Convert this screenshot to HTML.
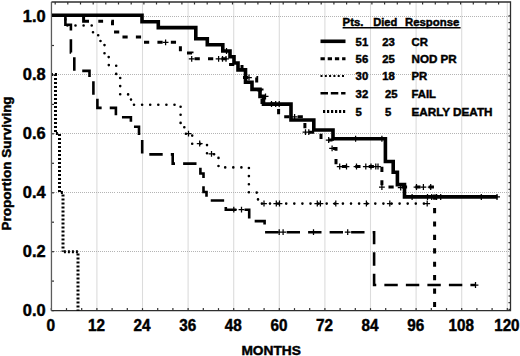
<!DOCTYPE html>
<html><head><meta charset="utf-8"><style>
html,body{margin:0;padding:0;background:#fff;}
body{width:520px;height:356px;overflow:hidden;}
svg{display:block;}
</style></head><body>
<svg width="520" height="356" viewBox="0 0 520 356">
<rect width="520" height="356" fill="#fff"/>
<g stroke="#dcdcdc" stroke-width="1.1"><line x1="96.9" y1="2.0" x2="96.9" y2="310.6"/><line x1="142.5" y1="2.0" x2="142.5" y2="310.6"/><line x1="188.1" y1="2.0" x2="188.1" y2="310.6"/><line x1="233.7" y1="2.0" x2="233.7" y2="310.6"/><line x1="279.3" y1="2.0" x2="279.3" y2="310.6"/><line x1="324.9" y1="2.0" x2="324.9" y2="310.6"/><line x1="370.5" y1="2.0" x2="370.5" y2="310.6"/><line x1="416.1" y1="2.0" x2="416.1" y2="310.6"/><line x1="461.7" y1="2.0" x2="461.7" y2="310.6"/><line x1="507.3" y1="2.0" x2="507.3" y2="310.6"/></g>
<g stroke="#b4b4b4" stroke-width="1" stroke-dasharray="1 1" shape-rendering="crispEdges"><line x1="51.5" y1="251.7" x2="510.5" y2="251.7"/><line x1="51.5" y1="192.8" x2="510.5" y2="192.8"/><line x1="51.5" y1="133.8" x2="510.5" y2="133.8"/><line x1="51.5" y1="74.9" x2="510.5" y2="74.9"/><line x1="51.5" y1="16.0" x2="510.5" y2="16.0"/></g>
<g stroke="#333" stroke-width="1.2"><line x1="51.3" y1="310.6" x2="51.3" y2="308.1"/><line x1="66.5" y1="310.6" x2="66.5" y2="308.1"/><line x1="81.7" y1="310.6" x2="81.7" y2="308.1"/><line x1="96.9" y1="310.6" x2="96.9" y2="308.1"/><line x1="112.1" y1="310.6" x2="112.1" y2="308.1"/><line x1="127.3" y1="310.6" x2="127.3" y2="308.1"/><line x1="142.5" y1="310.6" x2="142.5" y2="308.1"/><line x1="157.7" y1="310.6" x2="157.7" y2="308.1"/><line x1="172.9" y1="310.6" x2="172.9" y2="308.1"/><line x1="188.1" y1="310.6" x2="188.1" y2="308.1"/><line x1="203.3" y1="310.6" x2="203.3" y2="308.1"/><line x1="218.5" y1="310.6" x2="218.5" y2="308.1"/><line x1="233.7" y1="310.6" x2="233.7" y2="308.1"/><line x1="248.9" y1="310.6" x2="248.9" y2="308.1"/><line x1="264.1" y1="310.6" x2="264.1" y2="308.1"/><line x1="279.3" y1="310.6" x2="279.3" y2="308.1"/><line x1="294.5" y1="310.6" x2="294.5" y2="308.1"/><line x1="309.7" y1="310.6" x2="309.7" y2="308.1"/><line x1="324.9" y1="310.6" x2="324.9" y2="308.1"/><line x1="340.1" y1="310.6" x2="340.1" y2="308.1"/><line x1="355.3" y1="310.6" x2="355.3" y2="308.1"/><line x1="370.5" y1="310.6" x2="370.5" y2="308.1"/><line x1="385.7" y1="310.6" x2="385.7" y2="308.1"/><line x1="400.9" y1="310.6" x2="400.9" y2="308.1"/><line x1="416.1" y1="310.6" x2="416.1" y2="308.1"/><line x1="431.3" y1="310.6" x2="431.3" y2="308.1"/><line x1="446.5" y1="310.6" x2="446.5" y2="308.1"/><line x1="461.7" y1="310.6" x2="461.7" y2="308.1"/><line x1="476.9" y1="310.6" x2="476.9" y2="308.1"/><line x1="492.1" y1="310.6" x2="492.1" y2="308.1"/><line x1="507.3" y1="310.6" x2="507.3" y2="308.1"/><line x1="51.5" y1="310.6" x2="54.0" y2="310.6"/><line x1="51.5" y1="281.1" x2="54.0" y2="281.1"/><line x1="51.5" y1="251.7" x2="54.0" y2="251.7"/><line x1="51.5" y1="222.2" x2="54.0" y2="222.2"/><line x1="51.5" y1="192.8" x2="54.0" y2="192.8"/><line x1="51.5" y1="163.3" x2="54.0" y2="163.3"/><line x1="51.5" y1="133.8" x2="54.0" y2="133.8"/><line x1="51.5" y1="104.4" x2="54.0" y2="104.4"/><line x1="51.5" y1="74.9" x2="54.0" y2="74.9"/><line x1="51.5" y1="45.5" x2="54.0" y2="45.5"/><line x1="51.5" y1="16.0" x2="54.0" y2="16.0"/><line x1="55.2" y1="2.0" x2="55.2" y2="4.5"/><line x1="67.8" y1="2.0" x2="67.8" y2="4.5"/><line x1="80.5" y1="2.0" x2="80.5" y2="4.5"/><line x1="93.2" y1="2.0" x2="93.2" y2="4.5"/><line x1="105.8" y1="2.0" x2="105.8" y2="4.5"/><line x1="118.5" y1="2.0" x2="118.5" y2="4.5"/><line x1="131.2" y1="2.0" x2="131.2" y2="4.5"/><line x1="143.9" y1="2.0" x2="143.9" y2="4.5"/><line x1="156.5" y1="2.0" x2="156.5" y2="4.5"/><line x1="169.2" y1="2.0" x2="169.2" y2="4.5"/><line x1="181.9" y1="2.0" x2="181.9" y2="4.5"/><line x1="194.5" y1="2.0" x2="194.5" y2="4.5"/><line x1="207.2" y1="2.0" x2="207.2" y2="4.5"/><line x1="219.9" y1="2.0" x2="219.9" y2="4.5"/><line x1="232.5" y1="2.0" x2="232.5" y2="4.5"/><line x1="245.2" y1="2.0" x2="245.2" y2="4.5"/><line x1="257.9" y1="2.0" x2="257.9" y2="4.5"/><line x1="270.5" y1="2.0" x2="270.5" y2="4.5"/><line x1="283.2" y1="2.0" x2="283.2" y2="4.5"/><line x1="295.9" y1="2.0" x2="295.9" y2="4.5"/><line x1="308.6" y1="2.0" x2="308.6" y2="4.5"/><line x1="321.2" y1="2.0" x2="321.2" y2="4.5"/><line x1="333.9" y1="2.0" x2="333.9" y2="4.5"/><line x1="346.6" y1="2.0" x2="346.6" y2="4.5"/><line x1="359.2" y1="2.0" x2="359.2" y2="4.5"/><line x1="371.9" y1="2.0" x2="371.9" y2="4.5"/><line x1="384.6" y1="2.0" x2="384.6" y2="4.5"/><line x1="397.3" y1="2.0" x2="397.3" y2="4.5"/><line x1="409.9" y1="2.0" x2="409.9" y2="4.5"/><line x1="422.6" y1="2.0" x2="422.6" y2="4.5"/><line x1="435.3" y1="2.0" x2="435.3" y2="4.5"/><line x1="447.9" y1="2.0" x2="447.9" y2="4.5"/><line x1="460.6" y1="2.0" x2="460.6" y2="4.5"/><line x1="473.3" y1="2.0" x2="473.3" y2="4.5"/><line x1="485.9" y1="2.0" x2="485.9" y2="4.5"/><line x1="498.6" y1="2.0" x2="498.6" y2="4.5"/><line x1="510.5" y1="15.9" x2="508.5" y2="15.9"/><line x1="510.5" y1="22.6" x2="508.5" y2="22.6"/><line x1="510.5" y1="29.2" x2="508.5" y2="29.2"/><line x1="510.5" y1="35.9" x2="508.5" y2="35.9"/><line x1="510.5" y1="42.6" x2="508.5" y2="42.6"/><line x1="510.5" y1="49.3" x2="508.5" y2="49.3"/><line x1="510.5" y1="55.9" x2="508.5" y2="55.9"/><line x1="510.5" y1="62.6" x2="508.5" y2="62.6"/><line x1="510.5" y1="69.3" x2="508.5" y2="69.3"/><line x1="510.5" y1="75.9" x2="508.5" y2="75.9"/><line x1="510.5" y1="82.6" x2="508.5" y2="82.6"/><line x1="510.5" y1="89.3" x2="508.5" y2="89.3"/><line x1="510.5" y1="95.9" x2="508.5" y2="95.9"/><line x1="510.5" y1="102.6" x2="508.5" y2="102.6"/><line x1="510.5" y1="109.3" x2="508.5" y2="109.3"/><line x1="510.5" y1="116.0" x2="508.5" y2="116.0"/><line x1="510.5" y1="122.6" x2="508.5" y2="122.6"/><line x1="510.5" y1="129.3" x2="508.5" y2="129.3"/><line x1="510.5" y1="136.0" x2="508.5" y2="136.0"/><line x1="510.5" y1="142.6" x2="508.5" y2="142.6"/><line x1="510.5" y1="149.3" x2="508.5" y2="149.3"/><line x1="510.5" y1="156.0" x2="508.5" y2="156.0"/><line x1="510.5" y1="162.6" x2="508.5" y2="162.6"/><line x1="510.5" y1="169.3" x2="508.5" y2="169.3"/><line x1="510.5" y1="176.0" x2="508.5" y2="176.0"/><line x1="510.5" y1="182.6" x2="508.5" y2="182.6"/><line x1="510.5" y1="189.3" x2="508.5" y2="189.3"/><line x1="510.5" y1="196.0" x2="508.5" y2="196.0"/><line x1="510.5" y1="202.7" x2="508.5" y2="202.7"/><line x1="510.5" y1="209.3" x2="508.5" y2="209.3"/><line x1="510.5" y1="216.0" x2="508.5" y2="216.0"/><line x1="510.5" y1="222.7" x2="508.5" y2="222.7"/><line x1="510.5" y1="229.3" x2="508.5" y2="229.3"/><line x1="510.5" y1="236.0" x2="508.5" y2="236.0"/><line x1="510.5" y1="242.7" x2="508.5" y2="242.7"/><line x1="510.5" y1="249.3" x2="508.5" y2="249.3"/><line x1="510.5" y1="256.0" x2="508.5" y2="256.0"/><line x1="510.5" y1="262.7" x2="508.5" y2="262.7"/><line x1="510.5" y1="269.4" x2="508.5" y2="269.4"/><line x1="510.5" y1="276.0" x2="508.5" y2="276.0"/><line x1="510.5" y1="282.7" x2="508.5" y2="282.7"/><line x1="510.5" y1="289.4" x2="508.5" y2="289.4"/><line x1="510.5" y1="296.0" x2="508.5" y2="296.0"/><line x1="510.5" y1="302.7" x2="508.5" y2="302.7"/><line x1="510.5" y1="309.4" x2="508.5" y2="309.4"/></g>
<path d="M51.45,2.0 H510.5 V310.6 H51.45" fill="none" stroke="#2e2e2e" stroke-width="1.3"/>
<line x1="51.45" y1="2.0" x2="51.45" y2="310.6" stroke="#5c5c5c" stroke-width="1.3"/>
<path d="M52.0,15.2 L142.0,15.2 L142.0,21.7 L158.3,21.7 L158.3,27.6 L195.8,27.6 L195.8,38.8 L207.3,38.8 L207.3,44.8 L222.8,44.8 L222.8,51.0 L230.0,51.0 L230.0,56.8 L234.0,56.8 L234.0,63.0 L238.0,63.0 L238.0,69.9 L245.5,69.9 L245.5,82.3 L252.0,82.3 L252.0,89.4 L260.0,89.4 L260.0,96.4 L263.5,96.4 L263.5,104.1 L291.0,104.1 L291.0,120.0 L313.8,120.0 L313.8,130.0 L333.0,130.0 L333.0,138.8 L385.4,138.8 L385.4,161.5 L393.2,161.5 L393.2,172.3 L397.4,172.3 L397.4,184.6 L404.5,184.6 L404.5,196.9 L497.5,196.9" fill="none" stroke="#000" stroke-width="3.6" stroke-linejoin="miter" stroke-linecap="butt"/>
<path d="M83.6,15.4 V21.3 H89" fill="none" stroke="#000" stroke-width="3"/>
<path d="M98.3,21.3 L112.5,21.3 L112.5,32.0 L120.5,32.0 L120.5,37.0 L142.2,37.0 L142.2,42.3 L180.4,42.3 L180.4,53.0 L192.0,53.0 L192.0,58.8 L229.0,58.8 L229.0,64.6 L242.0,64.6 L242.0,77.5 L256.7,77.5 L256.7,90.0 L262.0,90.0 L262.0,104.0 L278.6,104.0 L278.6,116.8 L304.9,116.8 L304.9,132.3 L321.0,132.3 L321.0,140.0 L332.5,140.0 L332.5,148.5 L336.0,148.5 L336.0,166.5 L381.9,166.5 L381.9,187.0 L434.6,187.0 L434.6,310.7" fill="none" stroke="#000" stroke-width="3" stroke-dasharray="5.2 8.22" stroke-dashoffset="0.4"/>
<path d="M65.4,15.4 L65.4,25.5 L93.0,25.5 L93.0,35.2 L100.5,35.2 L100.5,45.1 L104.5,45.1 L104.5,55.0 L108.7,55.0 L108.7,65.1 L116.2,65.1 L116.2,74.8 L120.2,74.8 L120.2,94.4 L131.0,94.4 L131.0,104.7 L180.6,104.7 L180.6,124.0 L184.3,124.0 L184.3,133.8 L192.2,133.8 L192.2,143.8 L207.0,143.8 L207.0,154.2 L218.5,154.2 L218.5,167.4 L248.9,167.4 L248.9,192.6 L258.0,192.6 L258.0,203.6 L430.5,203.6" fill="none" stroke="#000" stroke-width="2.6" stroke-dasharray="0.01 8.09" stroke-dashoffset="-4.0" stroke-linecap="round"/>
<path d="M65.4,15.4 V24.7 H70.9 V30.6" fill="none" stroke="#000" stroke-width="2.6"/>
<path d="M70.9,38.5 L70.9,52.4 L74.3,52.4 L74.3,70.9 L89.5,70.9 L89.5,80.2 L93.4,80.2 L93.4,98.6 L97.4,98.6 L97.4,107.9 L115.9,107.9 L115.9,117.2 L130.9,117.2 L130.9,126.7 L139.0,126.7 L139.0,136.0 L142.2,136.0 L142.2,154.4 L172.7,154.4 L172.7,163.6 L200.4,163.6 L200.4,173.5 L203.5,173.5 L203.5,192.0 L206.5,192.0 L206.5,200.5 L225.8,200.5 L225.8,209.7 L249.2,209.7 L249.2,221.1 L264.6,221.1 L264.6,232.2 L374.1,232.2 L374.1,285.0 L476.0,285.0" fill="none" stroke="#000" stroke-width="2.6" stroke-dasharray="13.4 8.11" stroke-dashoffset="-0.7"/>
<path d="M52.0,74.6 L55.5,74.6 L55.5,133.6 L59.5,133.6 L59.5,192.6 L63.0,192.6 L63.0,251.7" fill="none" stroke="#000" stroke-width="3" stroke-dasharray="2 2" stroke-dashoffset="1.1"/>
<path d="M63.0,251.7 L78.0,251.7 L78.0,310.7" fill="none" stroke="#000" stroke-width="3" stroke-dasharray="2 2" stroke-dashoffset="-0.9"/>
<path d="M162.7,42.3h5.8M165.6,39.4v5.8M188.8,58.8h5.8M191.7,55.9v5.8M215.7,58.8h5.8M218.6,55.9v5.8M219.6,58.8h5.8M222.5,55.9v5.8M223.1,58.8h5.8M226.0,55.9v5.8M246.1,77.5h5.8M249.0,74.6v5.8M291.7,116.8h5.8M294.6,113.9v5.8M302.6,132.1h5.8M305.5,129.2v5.8M305.9,132.1h5.8M308.8,129.2v5.8M325.8,140.0h5.8M328.7,137.1v5.8M329.2,148.4h5.8M332.1,145.5v5.8M336.8,166.5h5.8M339.7,163.6v5.8M343.6,166.5h5.8M346.5,163.6v5.8M353.6,166.5h5.8M356.5,163.6v5.8M362.9,166.5h5.8M365.8,163.6v5.8M368.1,166.5h5.8M371.0,163.6v5.8M372.9,166.5h5.8M375.8,163.6v5.8M375.1,166.5h5.8M378.0,163.6v5.8M379.0,187.2h5.8M381.9,184.3v5.8M397.8,187.5h5.8M400.7,184.6v5.8M413.6,187.0h5.8M416.5,184.1v5.8M420.5,187.0h5.8M423.4,184.1v5.8M427.8,187.0h5.8M430.7,184.1v5.8M185.6,133.6h5.8M188.5,130.7v5.8M196.8,143.5h5.8M199.7,140.6v5.8M208.6,153.9h5.8M211.5,151.0v5.8M261.1,203.5h5.8M264.0,200.6v5.8M273.4,203.5h5.8M276.3,200.6v5.8M276.6,203.5h5.8M279.5,200.6v5.8M314.4,203.5h5.8M317.3,200.6v5.8M317.5,203.5h5.8M320.4,200.6v5.8M332.9,203.5h5.8M335.8,200.6v5.8M363.5,203.5h5.8M366.4,200.6v5.8M386.9,203.5h5.8M389.8,200.6v5.8M424.3,203.5h5.8M427.2,200.6v5.8M230.9,209.7h5.8M233.8,206.8v5.8M238.6,209.7h5.8M241.5,206.8v5.8M276.3,232.2h5.8M279.2,229.3v5.8M280.2,232.2h5.8M283.1,229.3v5.8M310.6,232.2h5.8M313.5,229.3v5.8M344.8,232.2h5.8M347.7,229.3v5.8M472.6,285.0h5.8M475.5,282.1v5.8M223.5,51.0h6.0M226.5,48.0v6.0M262.5,96.4h6.0M265.5,93.4v6.0M268.5,104.1h6.0M271.5,101.1v6.0M272.7,104.1h6.0M275.7,101.1v6.0M276.2,104.1h6.0M279.2,101.1v6.0M352.6,138.8h6.0M355.6,135.8v6.0M378.9,138.8h6.0M381.9,135.8v6.0M409.1,196.9h6.0M412.1,193.9v6.0M424.5,196.9h6.0M427.5,193.9v6.0M428.7,196.9h6.0M431.7,193.9v6.0M433.6,196.9h6.0M436.6,193.9v6.0M437.7,196.9h6.0M440.7,193.9v6.0M478.3,196.9h6.0M481.3,193.9v6.0M494.0,196.9h6.0M497.0,193.9v6.0" fill="none" stroke="#000" stroke-width="1.25"/>
<line x1="320.5" y1="41.3" x2="345.5" y2="41.3" stroke="#000" stroke-width="3.6"/>
<line x1="320.5" y1="58.7" x2="345.5" y2="58.7" stroke="#000" stroke-width="3" stroke-dasharray="4.3 2.9"/>
<line x1="320.5" y1="76" x2="345.5" y2="76" stroke="#000" stroke-width="2.2" stroke-dasharray="2 2.3"/>
<line x1="320.5" y1="93.2" x2="345.5" y2="93.2" stroke="#000" stroke-width="2.6" stroke-dasharray="7.5 2.8"/>
<line x1="323.0" y1="111.5" x2="345.5" y2="111.5" stroke="#000" stroke-width="3" stroke-dasharray="2.2 1.8"/>
<g font-family="Liberation Sans, sans-serif" font-weight="bold" stroke="#000" stroke-width="0.45" fill="#000"><text x="342.6" y="25.6" font-size="11.3" text-anchor="start" textLength="20.8" lengthAdjust="spacingAndGlyphs" >Pts.</text><text x="373.3" y="25.6" font-size="11.3" text-anchor="start" textLength="24.0" lengthAdjust="spacingAndGlyphs" >Died</text><text x="405.0" y="25.6" font-size="11.3" text-anchor="start" textLength="54.3" lengthAdjust="spacingAndGlyphs" >Response</text><text x="355.6" y="46.2" font-size="11.3" text-anchor="start" >51</text><text x="382.3" y="46.2" font-size="11.3" text-anchor="start" >23</text><text x="411.5" y="46.2" font-size="11.3" text-anchor="start" >CR</text><text x="355.6" y="63.4" font-size="11.3" text-anchor="start" >56</text><text x="382.3" y="63.4" font-size="11.3" text-anchor="start" >25</text><text x="411.5" y="63.4" font-size="11.3" text-anchor="start" textLength="45.2" lengthAdjust="spacingAndGlyphs" >NOD PR</text><text x="355.6" y="80.4" font-size="11.3" text-anchor="start" >30</text><text x="382.3" y="80.4" font-size="11.3" text-anchor="start" >18</text><text x="411.5" y="80.4" font-size="11.3" text-anchor="start" >PR</text><text x="355.6" y="97.7" font-size="11.3" text-anchor="start" >32</text><text x="385.0" y="97.7" font-size="11.3" text-anchor="start" >25</text><text x="411.5" y="97.7" font-size="11.3" text-anchor="start" >FAIL</text><text x="355.6" y="115.5" font-size="11.3" text-anchor="start" >5</text><text x="385.0" y="115.5" font-size="11.3" text-anchor="start" >5</text><text x="411.5" y="115.5" font-size="11.3" text-anchor="start" textLength="81.0" lengthAdjust="spacingAndGlyphs" >EARLY DEATH</text></g>
<line x1="342.6" y1="27.8" x2="460.6" y2="27.8" stroke="#000" stroke-width="1.5"/>
<g font-family="Liberation Sans, sans-serif" font-weight="bold" stroke="#000" stroke-width="0.45" fill="#000"><text x="45.6" y="315.9" font-size="16.0" text-anchor="end" textLength="22.8" lengthAdjust="spacingAndGlyphs" >0.0</text><text x="45.6" y="256.9" font-size="16.0" text-anchor="end" textLength="22.8" lengthAdjust="spacingAndGlyphs" >0.2</text><text x="45.6" y="198.0" font-size="16.0" text-anchor="end" textLength="22.8" lengthAdjust="spacingAndGlyphs" >0.4</text><text x="45.6" y="139.2" font-size="16.0" text-anchor="end" textLength="22.8" lengthAdjust="spacingAndGlyphs" >0.6</text><text x="45.6" y="80.3" font-size="16.0" text-anchor="end" textLength="22.8" lengthAdjust="spacingAndGlyphs" >0.8</text><text x="45.6" y="21.5" font-size="16.0" text-anchor="end" textLength="22.8" lengthAdjust="spacingAndGlyphs" >1.0</text><text x="50.9" y="330.6" font-size="15.6" text-anchor="middle" textLength="8.6" lengthAdjust="spacingAndGlyphs" >0</text><text x="96.5" y="330.6" font-size="15.6" text-anchor="middle" textLength="17.0" lengthAdjust="spacingAndGlyphs" >12</text><text x="142.1" y="330.6" font-size="15.6" text-anchor="middle" textLength="17.0" lengthAdjust="spacingAndGlyphs" >24</text><text x="187.7" y="330.6" font-size="15.6" text-anchor="middle" textLength="17.0" lengthAdjust="spacingAndGlyphs" >36</text><text x="233.3" y="330.6" font-size="15.6" text-anchor="middle" textLength="17.0" lengthAdjust="spacingAndGlyphs" >48</text><text x="278.9" y="330.6" font-size="15.6" text-anchor="middle" textLength="17.0" lengthAdjust="spacingAndGlyphs" >60</text><text x="324.5" y="330.6" font-size="15.6" text-anchor="middle" textLength="17.0" lengthAdjust="spacingAndGlyphs" >72</text><text x="370.1" y="330.6" font-size="15.6" text-anchor="middle" textLength="17.0" lengthAdjust="spacingAndGlyphs" >84</text><text x="415.7" y="330.6" font-size="15.6" text-anchor="middle" textLength="17.0" lengthAdjust="spacingAndGlyphs" >96</text><text x="461.3" y="330.6" font-size="15.6" text-anchor="middle" textLength="25.4" lengthAdjust="spacingAndGlyphs" >108</text><text x="506.9" y="330.6" font-size="15.6" text-anchor="middle" textLength="25.4" lengthAdjust="spacingAndGlyphs" >120</text><text x="271.2" y="354.6" font-size="13.0" text-anchor="middle" textLength="59.5" lengthAdjust="spacingAndGlyphs" >MONTHS</text><text transform="translate(10.9,163.4) rotate(-90)" x="0" y="0" font-size="12.8" text-anchor="middle" textLength="134" lengthAdjust="spacingAndGlyphs">Proportion Surviving</text></g>
</svg>
</body></html>
